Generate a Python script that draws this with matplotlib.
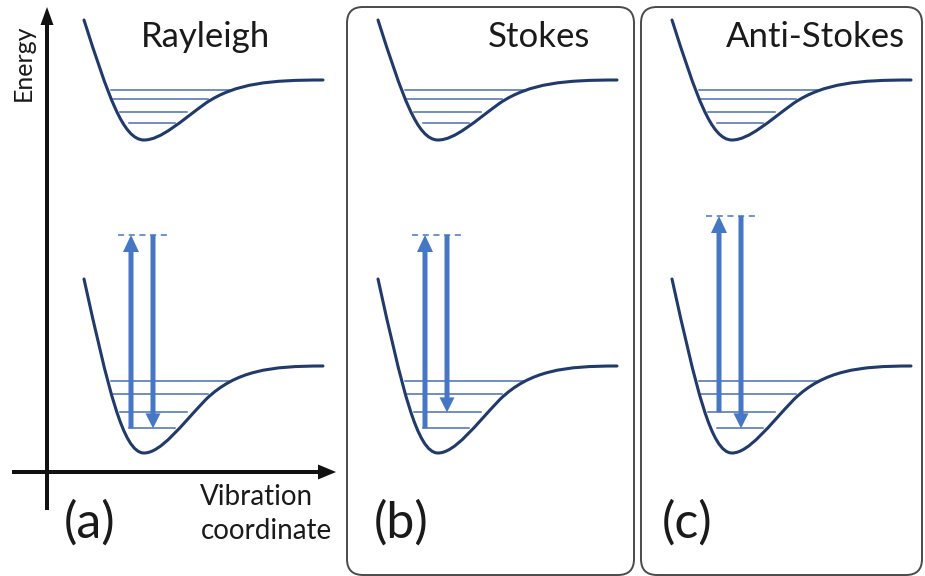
"""Energy-level sketch of Rayleigh, Stokes and anti-Stokes scattering."""
import matplotlib

matplotlib.use("Agg")
from matplotlib import pyplot as plt
from matplotlib.path import Path
from matplotlib.patches import PathPatch, FancyArrow, FancyBboxPatch

plt.rcParams["font.family"] = ["Lato", "DejaVu Sans"]

NAVY, BLUE, LEVEL, INK, FRAME = "#1f3a6b", "#4677c4", "#4a6fb0", "#111111", "#4a4a4a"
TEXT = "#1a1a1a"

# potential well as cubic Bezier nodes, (dx, energy) from the well minimum
WELL_DX = [-60, -36, -21, 0, 17, 37, 62, 92, 127, 179]
WELL_E = [120, 45, 0, 0, 0, 19, 37, 57, 60, 60]
WELL_CODES = [Path.MOVETO] + [Path.CURVE4] * 9

# vibrational levels: energy and left/right ends (dx from the minimum)
LEVEL_E = [50, 41, 28, 17]
LEVEL_LEFT = [-33, -31, -24, -15]
LEVEL_RIGHT = [86, 64, 43, 31]

TITLES = ["Rayleigh", "Stokes", "Anti-Stokes"]
TITLE_X = [206, 539, 815]
TAGS = ["(a)", "(b)", "(c)"]
TAG_X = [90, 401, 687]
PANEL_X = [144, 438, 732]          # x of the well minimum in each panel
UPPER_Y, LOWER_Y, LOWER_SCALE = 140, 453, 1.45
START_LEVEL = [3, 3, 2]            # level the excitation leaves from
END_LEVEL = [3, 2, 3]              # level the emission lands on
VIRTUAL_E = [218, 218, 237]        # virtual state above the ground minimum
BOXES = [(347, 7, 287, 568), (641, 7, 281, 568)]


def well(ax, x0, y0, scale):
    verts = [(x0 + dx, y0 - e * scale) for dx, e in zip(WELL_DX, WELL_E)]
    ax.add_patch(PathPatch(Path(verts, WELL_CODES), fill=False, ec=NAVY,
                           lw=2.2, capstyle="round", zorder=3))
    for e, l, r in zip(LEVEL_E, LEVEL_LEFT, LEVEL_RIGHT):
        ax.plot([x0 + l, x0 + r], [y0 - e * scale] * 2, color=LEVEL, lw=1.1,
                zorder=2)


fig = plt.figure(figsize=(9.25, 5.76), dpi=100, facecolor="white")
ax = fig.add_axes([0, 0, 1, 1])
ax.set_xlim(0, 925)
ax.set_ylim(576, 0)
ax.axis("off")

for x, y, w, h in BOXES:
    ax.add_patch(FancyBboxPatch((x, y), w, h, boxstyle="round,pad=0,rounding_size=16",
                                fill=False, ec=FRAME, lw=1.4))

for i, x0 in enumerate(PANEL_X):
    well(ax, x0, UPPER_Y, 1.0)
    well(ax, x0, LOWER_Y, LOWER_SCALE)

    y_virt = LOWER_Y - VIRTUAL_E[i]
    y_start = LOWER_Y - LEVEL_E[START_LEVEL[i]] * LOWER_SCALE
    y_end = LOWER_Y - LEVEL_E[END_LEVEL[i]] * LOWER_SCALE
    ax.plot([x0 - 26, x0 + 24], [y_virt] * 2, color=BLUE, lw=1.1,
            ls=(0, (4, 3)), zorder=2)
    ax.add_patch(FancyArrow(x0 - 13, y_start, 0, y_virt - y_start, width=5,
                            head_width=16, head_length=17,
                            length_includes_head=True, color=BLUE, lw=0, zorder=4))
    ax.add_patch(FancyArrow(x0 + 9, y_virt, 0, y_end - y_virt, width=5,
                            head_width=15, head_length=15,
                            length_includes_head=True, color=BLUE, lw=0, zorder=4))

    ax.text(TITLE_X[i], 37, TITLES[i], fontsize=25, ha="center", va="center",
            color=TEXT)
    ax.text(TAG_X[i], 523, TAGS[i], fontsize=36, ha="center", va="center",
            color=TEXT)

# energy / coordinate axes
ax.add_patch(FancyArrow(47, 510, 0, -503, width=4, head_width=13, head_length=18,
                        length_includes_head=True, color=INK, lw=0))
ax.add_patch(FancyArrow(12, 472, 324, 0, width=4, head_width=15, head_length=18,
                        length_includes_head=True, color=INK, lw=0))
ax.text(23, 63, "Energy", rotation=90, fontsize=18, ha="center", va="center",
        color=TEXT)
ax.text(256, 497, "Vibration", fontsize=20, ha="center", va="center", color=TEXT)
ax.text(266, 531, "coordinate", fontsize=20, ha="center", va="center", color=TEXT)

fig.savefig("out.png", dpi=100, facecolor="white")
